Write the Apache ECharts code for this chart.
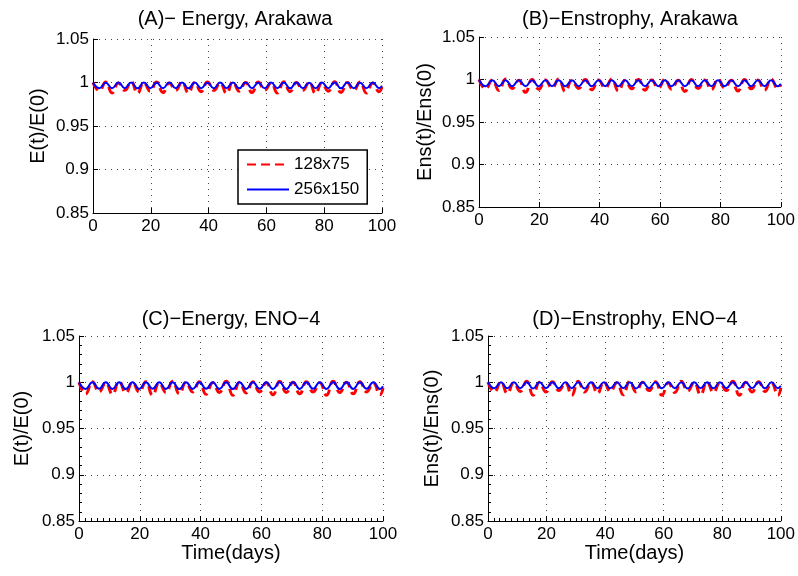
<!DOCTYPE html>
<html>
<head>
<meta charset="utf-8">
<script src="https://cdn.jsdelivr.net/npm/echarts@6/dist/echarts.min.js"></script>
<style>
  html, body { margin: 0; padding: 0; background: #fff; }
  #chart { width: 798px; height: 576px; }
</style>
</head>
<body>
<div id="chart"></div>
<script>
const panelTitles = ['(A)\u2212 Energy, Arakawa', '(B)\u2212Enstrophy, Arakawa', '(C)\u2212Energy, ENO\u22124', '(D)\u2212Enstrophy, ENO\u22124']
const yNames = ['E(t)/E(0)', 'Ens(t)/Ens(0)', 'E(t)/E(0)', 'Ens(t)/Ens(0)']
const xName = 'Time(days)'
const seriesNames = ['128x75', '256x150']

// time samples (peaks / troughs of the oscillation)
const days = [0, 2.2, 4.4, 6.6, 8.8, 11, 13.2, 15.4, 17.6, 19.8,
    22, 24.2, 26.4, 28.6, 30.8, 33, 35.2, 37.4, 39.6, 41.8,
    44, 46.2, 48.4, 50.6, 52.8, 55, 57.2, 59.4, 61.6, 63.8,
    66, 68.2, 70.4, 72.6, 74.8, 77, 79.2, 81.4, 83.6, 85.8,
    88, 90.2, 92.4, 94.6, 96.8, 99, 100]

const redA = [1.000, 0.9905, 1.0005, 0.988, 0.9995, 0.991, 1.001, 0.9875, 1.000, 0.990,
    1.0005, 0.9885, 0.9995, 0.991, 1.001, 0.988, 1.000, 0.9895, 1.0005, 0.991,
    0.9995, 0.9875, 1.001, 0.990, 1.000, 0.9885, 1.0005, 0.991, 0.9995, 0.988,
    1.001, 0.9895, 1.000, 0.991, 1.0005, 0.9875, 0.9995, 0.990, 1.001, 0.9885,
    1.000, 0.991, 1.0005, 0.988, 0.9995, 0.9895, 0.995]
const blueA = [1.000, 0.9935, 0.9998, 0.9934, 1.000, 0.9935, 0.9999, 0.9933, 1.000, 0.9935,
    0.9998, 0.9934, 1.000, 0.9935, 0.9999, 0.9933, 1.000, 0.9935, 0.9998, 0.9934,
    1.000, 0.9935, 0.9999, 0.9933, 1.000, 0.9935, 0.9998, 0.9934, 1.000, 0.9935,
    0.9999, 0.9933, 1.000, 0.9935, 0.9998, 0.9934, 1.000, 0.9935, 0.9999, 0.9933,
    1.000, 0.9935, 0.9998, 0.9934, 1.000, 0.9935, 0.9962]

const redB = [1.000, 0.989, 0.9995, 0.987, 1.0005, 0.9895, 0.999, 0.985, 1.000, 0.9885,
    0.9995, 0.990, 1.0005, 0.986, 0.999, 0.9895, 1.000, 0.988, 0.9995, 0.990,
    1.0005, 0.9865, 0.999, 0.989, 1.000, 0.9875, 0.9995, 0.990, 1.0005, 0.9885,
    0.999, 0.986, 1.000, 0.9895, 0.9995, 0.988, 1.0005, 0.990, 0.999, 0.9865,
    1.000, 0.989, 0.9995, 0.9875, 1.0005, 0.9895, 0.994]
const blueB = [1.000, 0.992, 0.999, 0.9922, 0.9992, 0.992, 0.999, 0.9921, 0.9992, 0.992,
    0.999, 0.9922, 0.9992, 0.992, 0.999, 0.9921, 0.9992, 0.992, 0.999, 0.9922,
    0.9992, 0.992, 0.999, 0.9921, 0.9992, 0.992, 0.999, 0.9922, 0.9992, 0.992,
    0.999, 0.9921, 0.9992, 0.992, 0.999, 0.9922, 0.9992, 0.992, 0.999, 0.9921,
    0.9992, 0.992, 0.999, 0.9922, 0.9992, 0.992, 0.995]

const redC = [1.000, 0.9875, 1.0005, 0.9895, 0.9995, 0.987, 1.001, 0.9885, 1.000, 0.9895,
    1.0005, 0.986, 0.9995, 0.989, 1.001, 0.9875, 1.000, 0.9895, 1.0005, 0.987,
    0.9995, 0.989, 1.001, 0.986, 1.000, 0.9885, 1.0005, 0.9895, 0.9995, 0.9865,
    1.001, 0.989, 1.000, 0.9875, 1.0005, 0.9895, 0.9995, 0.986, 1.001, 0.989,
    1.000, 0.9875, 1.0005, 0.9895, 0.9995, 0.9865, 0.994]
const blueC = [1.000, 0.9928, 0.9999, 0.9929, 1.000, 0.9928, 0.9999, 0.9927, 1.000, 0.9928,
    0.9999, 0.9929, 1.000, 0.9928, 0.9999, 0.9927, 1.000, 0.9928, 0.9999, 0.9929,
    1.000, 0.9928, 0.9999, 0.9927, 1.000, 0.9928, 0.9999, 0.9929, 1.000, 0.9928,
    0.9999, 0.9927, 1.000, 0.9928, 0.9999, 0.9929, 1.000, 0.9928, 0.9999, 0.9927,
    1.000, 0.9928, 0.9999, 0.9929, 1.000, 0.9928, 0.9958]

const redD = [1.000, 0.9895, 1.0005, 0.988, 0.9995, 0.990, 1.001, 0.986, 1.000, 0.9895,
    1.0005, 0.991, 0.9995, 0.986, 1.001, 0.9895, 1.000, 0.988, 1.0005, 0.990,
    0.9995, 0.9865, 1.001, 0.9895, 1.000, 0.991, 1.0005, 0.986, 0.9995, 0.989,
    1.001, 0.9905, 1.000, 0.9865, 1.0005, 0.989, 0.9995, 0.991, 1.001, 0.986,
    1.000, 0.9895, 1.0005, 0.990, 0.9995, 0.986, 0.994]
const blueD = [1.000, 0.9935, 1.000, 0.9934, 0.9999, 0.9935, 1.000, 0.9933, 0.9999, 0.9935,
    1.000, 0.9934, 0.9999, 0.9935, 1.000, 0.9933, 0.9999, 0.9935, 1.000, 0.9934,
    0.9999, 0.9935, 1.000, 0.9933, 0.9999, 0.9935, 1.000, 0.9934, 0.9999, 0.9935,
    1.000, 0.9933, 0.9999, 0.9935, 1.000, 0.9934, 0.9999, 0.9935, 1.000, 0.9933,
    0.9999, 0.9935, 1.000, 0.9934, 0.9999, 0.9935, 0.9962]

const reds = [redA, redB, redC, redD]
const blues = [blueA, blueB, blueC, blueD]

const font = '"Liberation Sans", Arial, sans-serif'

// plot boxes in pixels: left, top, width, height
const boxes = [
    [93, 39, 289, 174],
    [479, 37, 302, 170],
    [79, 336, 304, 185],
    [488, 336, 293, 185]
]
const titlePos = [[235, 19], [630, 19], [231, 319], [635, 319]]
const yNameGaps = [45, 44, 47, 46]

const pairs = (xs, ys) => xs.map((x, i) => [x, ys[i]])

const dotted = { type: [1, 5], color: '#444', width: 1 }

const myChart = echarts.init(document.querySelector('#chart'))
myChart.setOption({
    animation: false,
    backgroundColor: '#fff',
    textStyle: { fontFamily: font },
    graphic: panelTitles.map((t, i) => ({
        type: 'text',
        x: titlePos[i][0],
        y: titlePos[i][1],
        style: {
            text: t,
            fontSize: 20,
            fontFamily: font,
            fill: '#000',
            align: 'center',
            verticalAlign: 'middle'
        }
    })),
    legend: {
        data: seriesNames,
        orient: 'vertical',
        left: 238,
        top: 150,
        padding: [6, 8, 6, 8],
        itemGap: 8,
        itemWidth: 42,
        itemHeight: 14,
        borderColor: '#000',
        borderWidth: 1.5,
        backgroundColor: '#fff',
        itemStyle: { opacity: 0 },
        textStyle: { fontSize: 17, color: '#000', fontFamily: font }
    },
    grid: boxes.map(b => ({ left: b[0], top: b[1], width: b[2], height: b[3] })),
    xAxis: boxes.map((b, i) => ({
        type: 'value',
        gridIndex: i,
        min: 0,
        max: 100,
        interval: 20,
        name: i >= 2 ? xName : '',
        nameLocation: 'middle',
        nameGap: 21,
        nameTextStyle: { fontSize: 20, color: '#000', fontFamily: font, verticalAlign: 'top' },
        axisLine: { show: true, lineStyle: { color: '#000', width: 1 } },
        axisTick: { show: true, inside: true, length: 5, lineStyle: { color: '#000' } },
        minorTick: { show: i >= 2, splitNumber: 10, length: 3, lineStyle: { color: '#000' } },
        axisLabel: { fontSize: 17, color: '#000', margin: 5, fontFamily: font },
        splitLine: { show: true, lineStyle: dotted }
    })),
    yAxis: boxes.map((b, i) => ({
        type: 'value',
        gridIndex: i,
        min: 0.85,
        max: 1.05,
        interval: 0.05,
        name: yNames[i],
        nameLocation: 'middle',
        nameGap: yNameGaps[i],
        nameTextStyle: { fontSize: 20, color: '#000', fontFamily: font },
        axisLine: { show: true, lineStyle: { color: '#000', width: 1 } },
        axisTick: { show: true, inside: true, length: 5, lineStyle: { color: '#000' } },
        minorTick: { show: i >= 2, splitNumber: 5, length: 3, lineStyle: { color: '#000' } },
        axisLabel: {
            fontSize: 17, color: '#000', margin: 4, fontFamily: font,
            formatter: v => String(+v.toFixed(2))
        },
        splitLine: { show: true, lineStyle: dotted }
    })),
    series: [0, 1, 2, 3].flatMap(i => [
        {
            name: seriesNames[0],
            type: 'line',
            xAxisIndex: i,
            yAxisIndex: i,
            symbol: 'none',
            smooth: 0.5,
            lineStyle: { color: '#ff0000', width: 3, type: [9, 5] },
            itemStyle: { color: '#ff0000' },
            data: pairs(days, reds[i])
        },
        {
            name: seriesNames[1],
            type: 'line',
            xAxisIndex: i,
            yAxisIndex: i,
            symbol: 'none',
            smooth: 0.5,
            lineStyle: { color: '#0000ff', width: 2 },
            itemStyle: { color: '#0000ff' },
            data: pairs(days, blues[i])
        }
    ])
})
</script>
</body>
</html>
